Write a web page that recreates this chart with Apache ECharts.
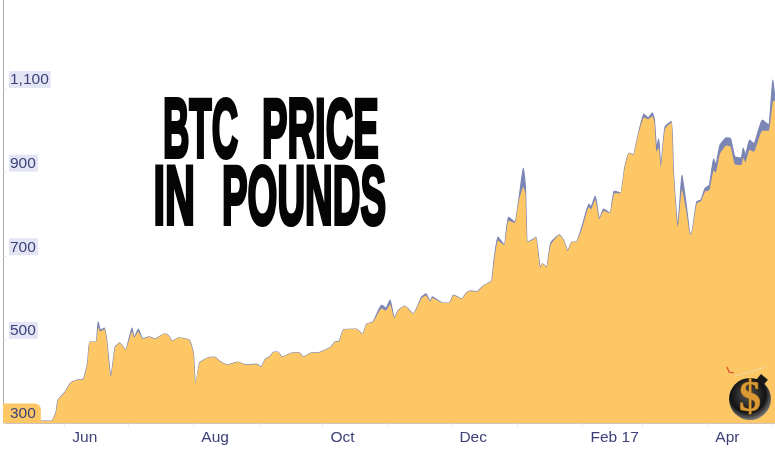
<!DOCTYPE html>
<html>
<head>
<meta charset="utf-8">
<title>BTC price in pounds</title>
<script src="https://cdn.jsdelivr.net/npm/echarts@6/dist/echarts.min.js"></script>
<style>
	html, body { margin: 0; padding: 0; background: #fff; }
	#chartBox { width: 775px; height: 453px; }
</style>
</head>
<body>
<div id="chartBox"></div>
<script>
var days = [
	'2016-05-03', '2016-05-23', '2016-05-26', '2016-05-28', '2016-05-29', '2016-06-01', '2016-06-04', '2016-06-07',
	'2016-06-10', '2016-06-12', '2016-06-13', '2016-06-16', '2016-06-17', '2016-06-18', '2016-06-20', '2016-06-21',
	'2016-06-23', '2016-06-25', '2016-06-26', '2016-06-27', '2016-06-30', '2016-07-03', '2016-07-04', '2016-07-06',
	'2016-07-08', '2016-07-11', '2016-07-14', '2016-07-18', '2016-07-20', '2016-07-22', '2016-07-25', '2016-07-30',
	'2016-08-01', '2016-08-02', '2016-08-04', '2016-08-08', '2016-08-11', '2016-08-14', '2016-08-17', '2016-08-22',
	'2016-08-26', '2016-08-31', '2016-09-02', '2016-09-04', '2016-09-06', '2016-09-08', '2016-09-10', '2016-09-12',
	'2016-09-17', '2016-09-20', '2016-09-22', '2016-09-26', '2016-09-29', '2016-10-05', '2016-10-07', '2016-10-09',
	'2016-10-11', '2016-10-17', '2016-10-20', '2016-10-22', '2016-10-25', '2016-10-29', '2016-10-31', '2016-11-02',
	'2016-11-04', '2016-11-06', '2016-11-09', '2016-11-13', '2016-11-17', '2016-11-19', '2016-11-21', '2016-11-22',
	'2016-11-27', '2016-11-30', '2016-12-02', '2016-12-06', '2016-12-08', '2016-12-10', '2016-12-13', '2016-12-16',
	'2016-12-20', '2016-12-21', '2016-12-23', '2016-12-26', '2016-12-28', '2016-12-31', '2017-01-02', '2017-01-04',
	'2017-01-05', '2017-01-06', '2017-01-09', '2017-01-10', '2017-01-12', '2017-01-13', '2017-01-15', '2017-01-17',
	'2017-01-21', '2017-01-23', '2017-01-25', '2017-01-27', '2017-01-29', '2017-02-01', '2017-02-04', '2017-02-05',
	'2017-02-07', '2017-02-09', '2017-02-11', '2017-02-14', '2017-02-16', '2017-02-19', '2017-02-21', '2017-02-23',
	'2017-02-25', '2017-02-27', '2017-03-02', '2017-03-04', '2017-03-06', '2017-03-07', '2017-03-08', '2017-03-09',
	'2017-03-10', '2017-03-12', '2017-03-15', '2017-03-16', '2017-03-18', '2017-03-19', '2017-03-20', '2017-03-22',
	'2017-03-24', '2017-03-25', '2017-03-27', '2017-03-29', '2017-03-31', '2017-04-02', '2017-04-04', '2017-04-05',
	'2017-04-07', '2017-04-10', '2017-04-12', '2017-04-14', '2017-04-17', '2017-04-18', '2017-04-19', '2017-04-21',
	'2017-04-23', '2017-04-27', '2017-04-30', '2017-05-02', '2017-05-03'
];
// top of the blue line
var highs = [
	306, 306, 306, 325, 356, 373, 397, 404,
	406, 445, 495, 495, 543, 524, 528, 500,
	411, 483, 488, 493, 476, 528, 505, 526,
	502, 507, 502, 514, 512, 497, 505, 500,
	469, 387, 445, 457, 459, 447, 440, 447,
	440, 442, 435, 454, 459, 471, 471, 459,
	469, 469, 459, 469, 469, 483, 495, 497,
	524, 526, 514, 538, 543, 583, 576, 595,
	552, 571, 581, 562, 603, 610, 591, 603,
	588, 588, 607, 598, 612, 617, 615, 629,
	641, 684, 746, 727, 794, 782, 839, 911,
	866, 734, 741, 746, 672, 682, 674, 732,
	751, 739, 713, 734, 734, 775, 825, 818,
	844, 789, 813, 803, 856, 851, 913, 947,
	942, 983, 1040, 1031, 1043, 1026, 959, 981,
	913, 1009, 1023, 899, 770, 827, 894, 823,
	751, 763, 830, 835, 863, 870, 933, 918,
	966, 983, 981, 938, 935, 959, 942, 978,
	969, 1026, 1014, 1122, 1074
];
// top of the orange fill, sits under the line on the spiky parts
var closes = [
	306, 306, 306, 325, 356, 373, 397, 404,
	406, 445, 495, 495, 530, 520, 526, 500,
	411, 483, 488, 493, 476, 520, 505, 520,
	502, 507, 502, 514, 512, 497, 505, 500,
	469, 395, 445, 457, 459, 447, 440, 447,
	440, 442, 435, 454, 459, 471, 471, 459,
	469, 469, 459, 469, 469, 483, 495, 497,
	524, 526, 514, 538, 543, 575, 570, 585,
	552, 571, 581, 562, 600, 606, 591, 600,
	588, 588, 607, 598, 612, 617, 615, 629,
	641, 680, 738, 727, 785, 780, 835, 866,
	850, 734, 741, 746, 672, 682, 674, 728,
	751, 739, 713, 734, 734, 770, 818, 812,
	835, 789, 808, 803, 850, 851, 913, 947,
	942, 983, 1032, 1028, 1035, 1020, 950, 960,
	913, 1005, 1020, 899, 770, 815, 860, 810,
	751, 763, 826, 832, 855, 858, 905, 900,
	945, 965, 962, 920, 918, 935, 925, 955,
	950, 1000, 1000, 1070, 1072
];
var xTickDays = ['2016-06-01', '2016-08-01', '2016-10-01', '2016-12-01', '2017-02-01', '2017-04-01'];
var xTickNames = ['Jun', 'Aug', 'Oct', 'Dec', 'Feb 17', 'Apr'];
var monthDays = ['2016-06-01', '2016-07-01', '2016-08-01', '2016-09-01', '2016-10-01', '2016-11-01', '2016-12-01',
	'2017-01-01', '2017-02-01', '2017-03-01', '2017-04-01', '2017-05-01'];
var yTicks = [300, 500, 700, 900, 1100];

var xTickTimes = xTickDays.map(function (d) { return Date.parse(d); });
var highPoints = days.map(function (d, i) { return [Date.parse(d), highs[i]]; });
var closePoints = days.map(function (d, i) { return [Date.parse(d), closes[i]]; });

var chart = echarts.init(document.getElementById('chartBox'), null, { renderer: 'canvas' });

var labelFont = { fontFamily: 'Liberation Sans', fontSize: 15.5, color: '#3d4178' };

chart.setOption({
	animation: false,
	backgroundColor: '#fff',
	grid: { left: 3, right: 0, top: 0, bottom: 29.5 },
	xAxis: {
		type: 'value',
		min: Date.parse('2016-05-03'),
		max: Date.parse('2017-05-03'),
		z: 5,
		axisLine: { show: false },
		splitLine: { show: false },
		axisTick: {
			show: true,
			length: 3,
			lineStyle: { color: '#ececec' },
			customValues: monthDays.map(function (d) { return Date.parse(d); })
		},
		axisLabel: {
			customValues: xTickTimes,
			hideOverlap: false,
			align: 'left',
			margin: 6,
			padding: [0, 0, 0, 8],
			fontFamily: labelFont.fontFamily,
			fontSize: labelFont.fontSize,
			color: labelFont.color,
			formatter: function (v) {
				return xTickNames[xTickTimes.indexOf(v)];
			}
		}
	},
	yAxis: {
		type: 'value',
		min: 300,
		max: 1313,
		z: 5,
		splitLine: { show: false },
		axisLine: { show: true, lineStyle: { color: '#aaaaaa', width: 1 } },
		axisTick: { show: true, inside: true, length: 3, lineStyle: { color: '#dddddd' }, customValues: yTicks },
		axisLabel: {
			inside: true,
			customValues: yTicks,
			margin: 0,
			verticalAlign: 'bottom',
			padding: [0, 0, 1, 0],
			fontFamily: labelFont.fontFamily,
			fontSize: labelFont.fontSize,
			color: labelFont.color,
			formatter: function (v) {
				var txt = echarts.format.addCommas(v);
				return v == 300 ? '{low|' + txt + '}' : '{gap|}{tag|' + txt + '}';
			},
			rich: {
				gap: { width: 6 },
				tag: { backgroundColor: '#e3e5f5', padding: [1, 2, 0, 1], fontFamily: labelFont.fontFamily, fontSize: labelFont.fontSize, color: labelFont.color },
				low: { backgroundColor: '#fdc766', borderRadius: [0, 6, 0, 0], padding: [2, 5, 1, 7], fontFamily: labelFont.fontFamily, fontSize: labelFont.fontSize, color: labelFont.color }
			}
		}
	},
	series: [
		{
			type: 'line',
			data: highPoints,
			showSymbol: false,
			smooth: 0.15,
			z: 2,
			lineStyle: { color: '#7c86b5', width: 1.2 },
			areaStyle: { color: '#7c86b5', opacity: 1 }
		},
		{
			type: 'line',
			data: closePoints,
			showSymbol: false,
			smooth: 0.15,
			z: 3,
			lineStyle: { width: 0 },
			areaStyle: { color: '#fdc766', opacity: 1 }
		}
	],
	graphic: [
		{ type: 'text', x: 163, y: 93, scaleX: 0.44, z: 20, style: { text: 'BTC', font: 'bold 83px "Liberation Sans"', fill: '#050505', stroke: '#050505', lineWidth: 4 } },
		{ type: 'text', x: 262, y: 93, scaleX: 0.46, z: 20, style: { text: 'PRICE', font: 'bold 83px "Liberation Sans"', fill: '#050505', stroke: '#050505', lineWidth: 4 } },
		{ type: 'text', x: 153.5, y: 160, scaleX: 0.5, z: 20, style: { text: 'IN', font: 'bold 83px "Liberation Sans"', fill: '#050505', stroke: '#050505', lineWidth: 4 } },
		{ type: 'text', x: 222, y: 160, scaleX: 0.462, z: 20, style: { text: 'POUNDS', font: 'bold 83px "Liberation Sans"', fill: '#050505', stroke: '#050505', lineWidth: 4 } },
		// little bomb logo, bottom right
		{
			type: 'rect', z: 20, x: 761, y: 374, rotation: -0.7,
			shape: { x: 0, y: 0, width: 9, height: 9 },
			style: { fill: '#1a1a1a' }
		},
		{
			type: 'circle', z: 20,
			shape: { cx: 750, cy: 399, r: 21 },
			style: {
				fill: new echarts.graphic.RadialGradient(0.45, 0.4, 0.6, [
					{ offset: 0, color: '#555' },
					{ offset: 0.7, color: '#111' },
					{ offset: 1, color: '#777' }
				])
			}
		},
		{
			type: 'text', z: 21, x: 750, y: 400,
			style: { text: '$', font: 'bold 44px "Liberation Serif"', fill: '#d99a35', stroke: '#8a5a18', lineWidth: 1, textAlign: 'center', textVerticalAlign: 'middle' }
		},
		{
			type: 'polyline', z: 20,
			shape: { points: [[727, 367], [729, 372], [734, 373]] },
			style: { stroke: '#d9482a', lineWidth: 1.2, fill: 'none' }
		},
		{
			type: 'polyline', z: 20,
			shape: { points: [[735, 376], [750, 372], [765, 367]] },
			style: { stroke: '#f1d7a5', lineWidth: 1, fill: 'none' }
		}
	]
});
</script>
</body>
</html>
